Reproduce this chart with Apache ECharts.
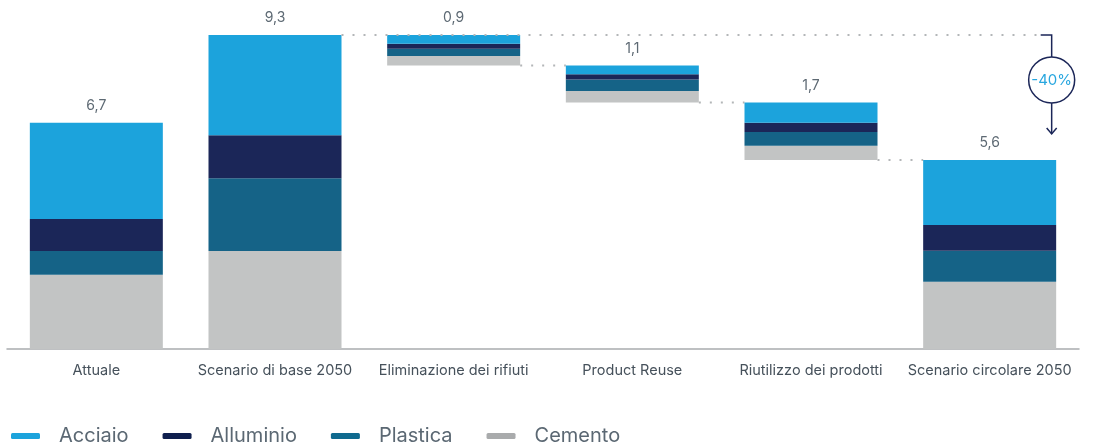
<!DOCTYPE html>
<html>
<head>
<meta charset="utf-8">
<script src="https://cdn.jsdelivr.net/npm/echarts@6/dist/echarts.min.js"></script>
<style>
  html, body { margin: 0; padding: 0; background: #ffffff; }
  #chart { width: 1094px; height: 447px; }
</style>
</head>
<body>
<div id="chart"></div>
<script>
// Categories along the x axis
const categories = ['Attuale', 'Scenario di base 2050', 'Eliminazione dei rifiuti', 'Product Reuse', 'Riutilizzo dei prodotti', 'Scenario circolare 2050'];
// 'total' bars stand on the axis, 'step' bars hang from the previous level
const barKinds = ['total', 'total', 'step', 'step', 'step', 'total'];
// Bar totals (shown above each bar)
const totals = [6.7, 9.3, 0.9, 1.1, 1.7, 5.6];
// Breakdown by material
const acciaio   = [2.85, 2.97, 0.26, 0.26, 0.60, 1.93];
const alluminio = [0.95, 1.27, 0.15, 0.16, 0.27, 0.76];
const plastica  = [0.70, 2.16, 0.21, 0.34, 0.41, 0.92];
const cemento   = [2.20, 2.90, 0.28, 0.34, 0.42, 1.99];
const seriesNames = ['Acciaio', 'Alluminio', 'Plastica', 'Cemento'];

const FONT = 'Inter';
const COLORS = { Acciaio: '#1ca3dc', Alluminio: '#1b2658', Plastica: '#156387', Cemento: '#c2c4c4' };
const LEGEND_COLORS = { Acciaio: '#1ca3dc', Alluminio: '#0f1f4e', Plastica: '#0f6a8f', Cemento: '#a9abac' };
const BAR_W = 133;
const DOT = { stroke: '#b3b6b8', lineWidth: 2, lineDash: [2, 9] };
const NAVY = '#1b2658';

const fmt = v => v.toFixed(1).replace('.', ',');

// Invisible offsets that lift the step bars to their running level
const offsets = [];
let level = 0;
totals.forEach((t, i) => {
  if (barKinds[i] === 'total') { offsets.push(0); level = t; }
  else { level = level - t; offsets.push(level); }
});

// Dotted connectors from the bottom of each step bar to the next bar
const connectors = [];
for (let i = 2; i < categories.length - 1; i++) {
  if (barKinds[i] === 'step') connectors.push([i, offsets[i]]);
}

const baseIdx = 1, lastIdx = categories.length - 1;
const change = Math.round((totals[lastIdx] / totals[baseIdx] - 1) * 100);

const chart = echarts.init(document.getElementById('chart'), null, { renderer: 'canvas' });

const stackSeries = [
  ['Cemento', cemento], ['Plastica', plastica], ['Alluminio', alluminio], ['Acciaio', acciaio]
].map(([name, data]) => ({
  name, type: 'bar', stack: 'w', barWidth: BAR_W, data,
  itemStyle: { color: COLORS[name] },
  emphasis: { disabled: true },
  label: name === 'Acciaio' ? {
    show: true, position: 'top', distance: 10,
    color: '#5d6973', fontSize: 14, fontFamily: FONT,
    formatter: p => fmt(totals[p.dataIndex])
  } : { show: false }
}));

chart.setOption({
  animation: false,
  grid: { left: 7, right: 15, top: 11.4, bottom: 98 },
  xAxis: {
    type: 'category', data: categories,
    axisTick: { show: false },
    axisLine: { lineStyle: { color: '#a9acae', width: 1.5 } },
    axisLabel: { color: '#46515b', fontSize: 14.5, fontFamily: FONT, margin: 14, interval: 0 }
  },
  yAxis: { type: 'value', min: 0, max: 10, show: false },
  legend: {
    left: 11, top: 426, padding: 0,
    icon: 'roundRect', itemWidth: 29, itemHeight: 6, itemGap: 34,
    textStyle: { color: '#5b6873', fontSize: 20, fontFamily: FONT, padding: [0, 0, 0, 14] },
    data: seriesNames.map(n => ({ name: n, itemStyle: { color: LEGEND_COLORS[n] } }))
  },
  series: [
    {
      name: 'offset', type: 'bar', stack: 'w', barWidth: BAR_W, data: offsets,
      itemStyle: { color: 'transparent' }, silent: true, emphasis: { disabled: true }
    },
    ...stackSeries,
    {
      type: 'custom', name: 'connectors', silent: true, clip: false, z: 1,
      data: connectors,
      renderItem: (params, api) => {
        const i = api.value(0), v = api.value(1);
        const p0 = api.coord([i, v]);
        const p1 = api.coord([i + 1, v]);
        return {
          type: 'line',
          shape: { x1: p0[0] + BAR_W / 2, y1: p0[1], x2: p1[0] - BAR_W / 2, y2: p1[1] },
          style: Object.assign({ fill: null }, DOT)
        };
      }
    },
    {
      type: 'custom', name: 'change', silent: true, clip: false, z: 3,
      data: [[baseIdx, lastIdx]],
      renderItem: (params, api) => {
        const top = api.coord([baseIdx, totals[baseIdx]]);
        const end = api.coord([lastIdx, totals[lastIdx]]);
        const xA = end[0] + 62;
        const yTop = top[1];
        const yTip = end[1] - 26;
        const r = 23;
        const cy = yTop + 45;
        return {
          type: 'group',
          children: [
            { type: 'line', shape: { x1: top[0] + BAR_W / 2, y1: yTop, x2: xA - 13, y2: yTop },
              style: Object.assign({ fill: null }, DOT) },
            { type: 'polyline', shape: { points: [[xA - 11, yTop], [xA, yTop], [xA, cy - r]] },
              style: { stroke: NAVY, lineWidth: 1.5, fill: null } },
            { type: 'line', shape: { x1: xA, y1: cy + r, x2: xA, y2: yTip },
              style: { stroke: NAVY, lineWidth: 1.5 } },
            { type: 'polyline', shape: { points: [[xA - 5, yTip - 6], [xA, yTip], [xA + 5, yTip - 6]] },
              style: { stroke: NAVY, lineWidth: 1.5, fill: null } },
            { type: 'circle', shape: { cx: xA, cy: cy, r: r },
              style: { stroke: NAVY, lineWidth: 1.5, fill: '#ffffff' } },
            { type: 'text', x: xA, y: cy,
              style: { text: change + '%', fill: '#27a6df', fontSize: 15, fontFamily: FONT,
                       align: 'center', verticalAlign: 'middle' } }
          ]
        };
      }
    }
  ]
});
</script>
</body>
</html>
